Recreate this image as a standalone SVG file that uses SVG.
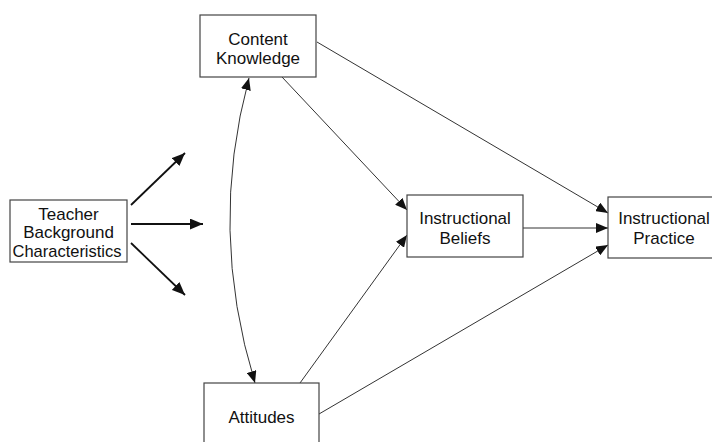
<svg xmlns="http://www.w3.org/2000/svg" width="712" height="442" viewBox="0 0 712 442">
<style>
.box{fill:#fff;stroke:#444;stroke-width:1.2}
.t{font-family:"Liberation Sans",Arial,sans-serif;font-size:17px;fill:#111;text-anchor:middle}
.c{fill:none;stroke:#333;stroke-width:1}
.b{fill:none;stroke:#111;stroke-width:1.8}
</style>
<defs>
<marker id="ah" viewBox="0 0 12 10" refX="12" refY="5" markerWidth="12" markerHeight="10" markerUnits="userSpaceOnUse" orient="auto-start-reverse">
<path d="M0,0 L12,5 L0,10 z" fill="#111"/>
</marker>
<marker id="ahb" viewBox="0 0 12 10" refX="12" refY="5" markerWidth="13" markerHeight="11" markerUnits="userSpaceOnUse" orient="auto">
<path d="M0,0 L12,5 L0,10 z" fill="#111"/>
</marker>
</defs>
<rect width="712" height="442" fill="#fff"/>
<g id="connectors">
<line class="b" x1="131" y1="205" x2="185" y2="153" marker-end="url(#ahb)"/>
<line class="b" x1="131" y1="224" x2="203" y2="224" marker-end="url(#ahb)"/>
<line class="b" x1="131" y1="243" x2="185" y2="295" marker-end="url(#ahb)"/>
<path class="c" d="M249,78 Q208,230 255,383" marker-start="url(#ah)" marker-end="url(#ah)"/>
<line class="c" x1="317" y1="42" x2="608" y2="213" marker-end="url(#ah)"/>
<line class="c" x1="282" y1="77" x2="407" y2="210" marker-end="url(#ah)"/>
<line class="c" x1="300" y1="383" x2="407" y2="235" marker-end="url(#ah)"/>
<line class="c" x1="319" y1="414" x2="608" y2="245" marker-end="url(#ah)"/>
<line class="c" x1="523" y1="228" x2="608" y2="228" marker-end="url(#ah)"/>
</g>
<g id="teacher">
<rect class="box" x="10" y="200" width="117" height="62"/>
<text class="t" x="68.5" y="220">Teacher</text>
<text class="t" x="68.5" y="238">Background</text>
<text class="t" x="67" y="257" textLength="109" lengthAdjust="spacingAndGlyphs">Characteristics</text>
</g>
<g id="content">
<rect class="box" x="200" y="15" width="116" height="62"/>
<text class="t" x="258" y="45">Content</text>
<text class="t" x="258" y="64">Knowledge</text>
</g>
<g id="attitudes">
<rect class="box" x="204" y="383" width="115" height="70"/>
<text class="t" x="261.5" y="423">Attitudes</text>
</g>
<g id="beliefs">
<rect class="box" x="407" y="195" width="116" height="62"/>
<text class="t" x="465" y="224">Instructional</text>
<text class="t" x="465" y="244">Beliefs</text>
</g>
<g id="practice">
<rect class="box" x="608" y="197" width="110" height="61"/>
<text class="t" x="664" y="224">Instructional</text>
<text class="t" x="664" y="244">Practice</text>
</g>
</svg>
